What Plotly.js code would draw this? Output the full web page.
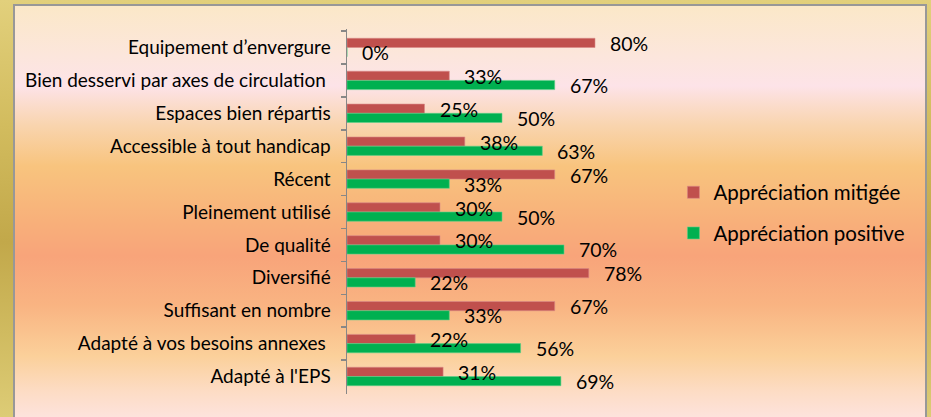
<!DOCTYPE html>
<html>
<head>
<meta charset="utf-8">
<script src="https://cdn.plot.ly/plotly-3.0.1.min.js"></script>
<style>
  html, body { margin: 0; padding: 0; }
  body {
    width: 931px; height: 417px; overflow: hidden; position: relative;
    background: linear-gradient(to bottom, #e2d07c 0%, #d2bc5e 30%, #c2a84a 58%, #d0bb60 80%, #ddcc76 100%);
  }
  #frame {
    position: absolute; left: 13px; top: 4px; width: 910px; height: 420px;
    border: 2px solid #989898; border-bottom: none;
    background: linear-gradient(to bottom,
      #fbe8c8 0px, #fce6dc 50px, #fde3e8 80px, #f9d5b0 118px, #f8c47e 160px,
      #f8b07a 215px, #f8a47a 250px, #f9b482 300px, #fbd09a 350px, #fddcc4 385px, #fde4e2 417px);
  }
  #chart { position: absolute; left: 0; top: 0; width: 931px; height: 417px; }
</style>
</head>
<body>
<div id="frame"></div>
<div id="chart"></div>
<script>
const categories = [
  "Equipement d’envergure",
  "Bien desservi par axes de circulation\u00a0",
  "Espaces bien répartis",
  "Accessible à tout handicap",
  "Récent",
  "Pleinement utilisé",
  "De qualité",
  "Diversifié",
  "Suffisant en nombre",
  "Adapté à vos besoins annexes\u00a0",
  "Adapté à l'EPS"
];
const mitigee = [80, 33, 25, 38, 67, 30, 30, 78, 67, 22, 31];
const positive = [0, 67, 50, 63, 33, 50, 70, 22, 33, 56, 69];
const seriesNames = ["Appréciation mitigée", "Appréciation positive"];

const font = "Lato, 'Open Sans', sans-serif";

const traces = [
  { type: "bar", orientation: "h", name: seriesNames[0], y: categories, x: mitigee,
    marker: { color: "#c0504d", line: { color: "#d98a88", width: 0.6 } }, legendgroup: "a", hoverinfo: "none" },
  { type: "bar", orientation: "h", name: seriesNames[1], y: categories, x: positive,
    marker: { color: "#00b050", line: { color: "#5fd08a", width: 0.6 } }, legendgroup: "b", hoverinfo: "none" }
];

const annotations = [];
categories.forEach((c, i) => {
  annotations.push({ x: mitigee[i], y: c, xref: "x", yref: "y", text: mitigee[i] + "%",
    showarrow: false, xanchor: "left", yanchor: "middle", xshift: 13, yshift: 4,
    font: { family: font, size: 19.5, color: "#000" } });
  annotations.push({ x: positive[i], y: c, xref: "x", yref: "y", text: positive[i] + "%",
    showarrow: false, xanchor: "left", yanchor: "middle", xshift: 13, yshift: -5,
    font: { family: font, size: 19.5, color: "#000" } });
});

const layout = {
  width: 931, height: 417,
  margin: { l: 347, r: 274, t: 29, b: 23 },
  paper_bgcolor: "rgba(0,0,0,0)",
  plot_bgcolor: "rgba(0,0,0,0)",
  barmode: "group",
  bargap: 0.44,
  bargroupgap: 0,
  showlegend: true,
  legend: {
    x: 1.053, xanchor: "left", y: 0.496, yanchor: "middle",
    bgcolor: "rgba(0,0,0,0)",
    font: { family: font, size: 20.5, color: "#000" },
    tracegroupgap: 11
  },
  xaxis: {
    range: [0, 100], visible: false, fixedrange: true
  },
  yaxis: {
    type: "category",
    autorange: "reversed",
    showline: true, linecolor: "#878787", linewidth: 1.5,
    ticks: "outside", tickson: "boundaries", ticklen: 5, tickcolor: "#878787", tickwidth: 1.5,
    ticklabelstandoff: 11,
    tickfont: { family: font, size: 19, color: "#000" },
    showgrid: false, zeroline: false, fixedrange: true
  },
  annotations: annotations
};

Plotly.newPlot("chart", traces, layout, { displayModeBar: false, staticPlot: true });
</script>
</body>
</html>
